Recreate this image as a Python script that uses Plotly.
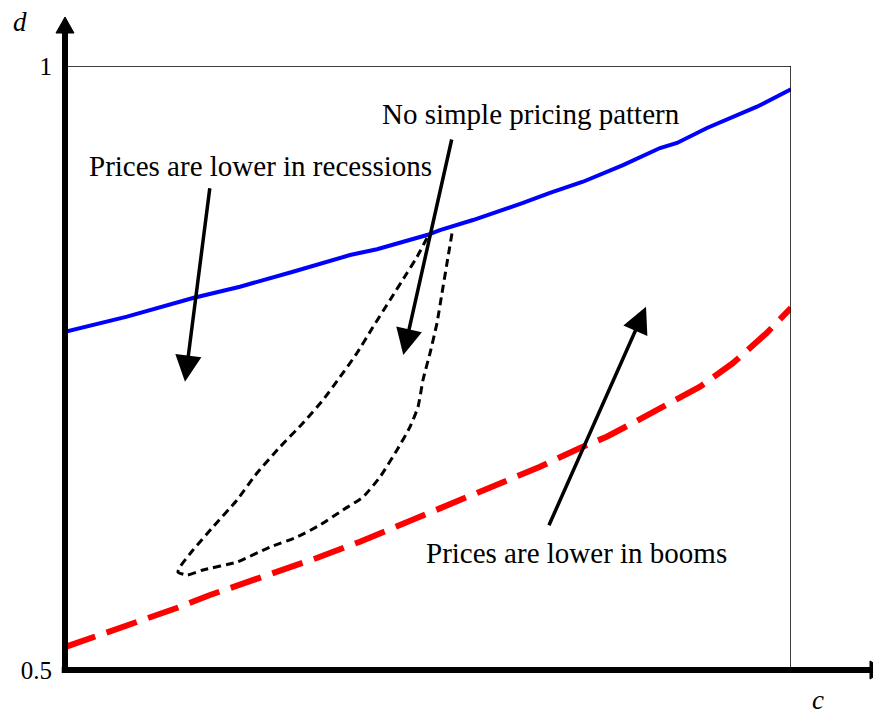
import plotly.graph_objects as go

# ---- data ----
blue_x = [0.000, 0.0854, 0.1763, 0.2410, 0.3140, 0.3926, 0.4298, 0.4986, 0.5165, 0.5620,
          0.6309, 0.6680, 0.7135, 0.7686, 0.8196, 0.8430, 0.8843, 0.9532, 1.000]
blue_y = [0.7800, 0.7925, 0.8079, 0.8173, 0.8297, 0.8435, 0.8483, 0.8601, 0.8642, 0.8725,
          0.8866, 0.8949, 0.9042, 0.9180, 0.9321, 0.9363, 0.9487, 0.9663, 0.9807]

red_x = [0.000, 0.0620, 0.1171, 0.1539, 0.1997, 0.2314, 0.2916, 0.3467, 0.4063, 0.4614, 0.5069,
         0.5620, 0.6084, 0.6543, 0.7094, 0.7461, 0.7824, 0.8288, 0.8747, 0.9201, 0.9665, 1.000]
red_y = [0.5190, 0.5317, 0.5430, 0.5513, 0.5621, 0.5687, 0.5803, 0.5927, 0.6062, 0.6200, 0.6310,
         0.6449, 0.6559, 0.6683, 0.6838, 0.6931, 0.7045, 0.7194, 0.7345, 0.7541, 0.7790, 0.7997]

loop_x = [0.4986, 0.4848, 0.4711, 0.4477, 0.4242, 0.4022, 0.3788, 0.3554, 0.3278, 0.2961, 0.2645,
          0.2369, 0.2039, 0.1763, 0.1584, 0.1556, 0.1680, 0.1901, 0.2369, 0.2824, 0.3196, 0.3512,
          0.3829, 0.4105, 0.4339, 0.4573, 0.4752, 0.4862, 0.4931, 0.5028, 0.5124, 0.5193, 0.5262, 0.5331]
loop_y = [0.8576, 0.8419, 0.8286, 0.8063, 0.7839, 0.7624, 0.7425, 0.7235, 0.7045, 0.6846, 0.6631,
          0.6407, 0.6184, 0.5993, 0.5853, 0.5811, 0.5786, 0.5828, 0.5894, 0.6018, 0.6101, 0.6200,
          0.6325, 0.6432, 0.6598, 0.6821, 0.7012, 0.7177, 0.7401, 0.7624, 0.7873, 0.8121, 0.8369, 0.8618]

# annotations: text, centre x, centre y
labels = ["Prices are lower in recessions", "No simple pricing pattern", "Prices are lower in booms"]
label_x = [0.2686, 0.6412, 0.7052]
label_y = [0.9172, 0.9603, 0.5969]

# arrows: head (x, y), tail (x, y)
arrow_head_x = [0.1653, 0.4660, 0.8003]
arrow_head_y = [0.7387, 0.7608, 0.8007]
arrow_tail_x = [0.1997, 0.5331, 0.6657]
arrow_tail_y = [0.9001, 0.9404, 0.6186]

y_tickvals = [0.5, 1.0]
y_ticktext = ["0.5", "1"]

FONT = "Liberation Serif"

fig = go.Figure()
fig.add_trace(go.Scatter(x=blue_x, y=blue_y, mode="lines",
                         line=dict(color="#0000FF", width=4), hoverinfo="skip"))
fig.add_trace(go.Scatter(x=red_x, y=red_y, mode="lines",
                         line=dict(color="#FF0000", width=6, dash="32px,12px"), hoverinfo="skip"))
fig.add_trace(go.Scatter(x=loop_x, y=loop_y, mode="lines",
                         line=dict(color="black", width=3, dash="8px,5px", shape="spline", smoothing=0.5),
                         hoverinfo="skip"))

for t, x, y in zip(labels, label_x, label_y):
    fig.add_annotation(x=x, y=y, xref="x", yref="y", text=t, showarrow=False,
                       font=dict(family=FONT, size=29, color="black"),
                       xanchor="center", yanchor="middle")

for hx, hy, tx, ty in zip(arrow_head_x, arrow_head_y, arrow_tail_x, arrow_tail_y):
    fig.add_annotation(x=hx, y=hy, ax=tx, ay=ty, xref="x", yref="y", axref="x", ayref="y",
                       text="", showarrow=True, arrowhead=2, arrowsize=1.5, arrowwidth=3.5,
                       arrowcolor="black", standoff=0, startstandoff=0)

# axis titles
fig.add_annotation(x=-0.062, y=1.0728, xref="paper", yref="paper", text="<i>d</i>",
                   showarrow=False, font=dict(family=FONT, size=27, color="black"),
                   xanchor="center", yanchor="middle")
fig.add_annotation(x=1.0372, y=-0.0778, xref="paper", yref="paper", text="<i>c</i>",
                   showarrow=False, font=dict(family=FONT, size=27, color="black"),
                   xanchor="center", yanchor="bottom")

shapes = [
    # frame
    dict(type="rect", xref="x", yref="y", x0=0, x1=1, y0=0.5, y1=1,
         line=dict(color="black", width=1.5), layer="above"),
    # y axis thick line + arrow head
    dict(type="line", xref="paper", yref="paper", x0=0, x1=0, y0=-0.005, y1=1.056,
         line=dict(color="black", width=6)),
    dict(type="path", xref="paper", yref="paper",
         path="M -0.0124,1.0546 L 0.0124,1.0546 L 0,1.0811 Z",
         fillcolor="black", line=dict(color="black", width=1)),
    # x axis thick line + arrow head
    dict(type="line", xref="paper", yref="paper", x0=-0.0045, x1=1.110, y0=0, y1=0,
         line=dict(color="black", width=6)),
    dict(type="path", xref="paper", yref="paper",
         path="M 1.1088,0.0149 L 1.1088,-0.0149 L 1.1309,0 Z",
         fillcolor="black", line=dict(color="black", width=1)),
]

# page body has an 8px default margin, so margins are shifted by -8px
fig.update_layout(
    width=881, height=717,
    margin=dict(l=57, r=98, t=58, b=55),
    paper_bgcolor="white", plot_bgcolor="white",
    showlegend=False,
    shapes=shapes,
    font=dict(family=FONT, color="black"),
    xaxis=dict(range=[0, 1], showgrid=False, zeroline=False, showline=False,
               showticklabels=False, ticks="", fixedrange=True),
    yaxis=dict(range=[0.5, 1], showgrid=False, zeroline=False, showline=False,
               tickvals=y_tickvals, ticktext=y_ticktext, ticks="",
               tickfont=dict(family=FONT, size=25, color="black"),
               ticklabelstandoff=12, fixedrange=True),
)

fig.write_html("out.html")
